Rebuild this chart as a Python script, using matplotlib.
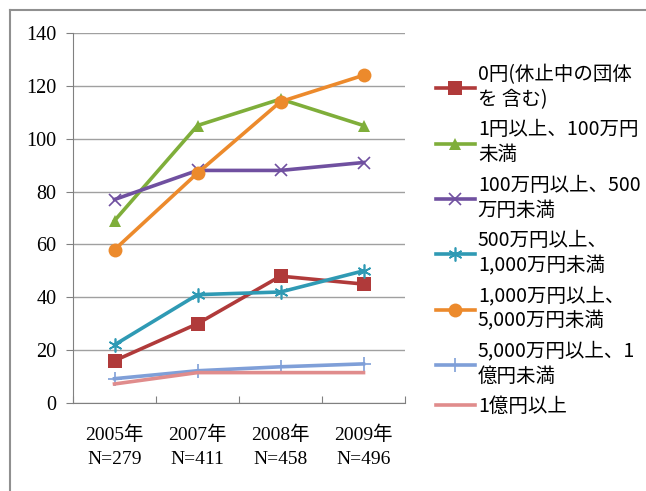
import matplotlib
matplotlib.use('Agg')
import matplotlib.pyplot as plt
from matplotlib.lines import Line2D

# categories and data
years = ['2005年\nN=279', '2007年\nN=411', '2008年\nN=458', '2009年\nN=496']
labels = ['0円(休止中の団体\nを 含む)',
          '1円以上、100万円\n未満',
          '100万円以上、500\n万円未満',
          '500万円以上、\n1,000万円未満',
          '1,000万円以上、\n5,000万円未満',
          '5,000万円以上、1\n億円未満',
          '1億円以上']
v_zero = [16, 30, 48, 45]
v_1 = [69, 105, 115, 105]
v_100 = [77, 88, 88, 91]
v_500 = [22, 41, 42, 50]
v_1000 = [58, 87, 114, 124]
v_5000 = [9.2, 12.2, 13.7, 14.8]
v_oku = [7.2, 11.5, 11.5, 11.5]

series = [v_zero, v_1, v_100, v_500, v_1000, v_5000, v_oku]
colors = ['#b03a3a', '#7fae3a', '#7050a0', '#2f9ab4', '#ec8a2c', '#7f9fd8', '#e08c8c']
markers = ['s', '^', 'x', (6, 2, 0), 'o', '+', None]
msizes = [10, 9, 9, 10, 10, 10, 0]

serif = ['Liberation Serif', 'Noto Sans CJK JP']
sans = ['Noto Sans CJK JP', 'DejaVu Sans']

fig = plt.figure(figsize=(6.46, 4.91), dpi=100)
ax = fig.add_axes([73/646, 1-403/491, (405-73)/646, (403-33)/491])

x = list(range(len(years)))
for vals, c, m, ms, lab in zip(series, colors, markers, msizes, labels):
    thin = m in ('x', '+') or isinstance(m, tuple)
    ax.plot(x, vals, color=c, lw=2.6, marker=m, ms=ms, mew=1.2 if thin else 0,
            mec=c, label=lab)

ax.set_xlim(-0.5, 3.5)
ax.set_ylim(0, 140)
ax.set_yticks(range(0, 141, 20))
ax.yaxis.grid(True, color='#a0a0a0', lw=1)
ax.set_axisbelow(True)
ax.set_xticks([-0.5, 0.5, 1.5, 2.5, 3.5], minor=False)
ax.set_xticklabels([])
ax.set_xticks(x, minor=True)
ax.set_xticklabels(years, minor=True, family=serif, fontsize=14, linespacing=1.6)
ax.tick_params(axis='x', which='major', length=5, color='#808080', direction='in')
ax.tick_params(axis='x', which='minor', length=0, pad=16)
ax.tick_params(axis='y', length=5, color='#808080', direction='out', pad=7)
for t in ax.get_yticklabels():
    t.set_family(serif)
    t.set_fontsize(14.5)
for s in ['top', 'right']:
    ax.spines[s].set_visible(False)
ax.spines['left'].set_color('#808080')
ax.spines['bottom'].set_color('#808080')

leg = fig.legend(loc='upper left', bbox_to_anchor=(436/646, 1-64/491), frameon=False,
                 prop={'family': sans, 'size': 14}, handlelength=2.0, handletextpad=0.15,
                 labelspacing=0.48, borderaxespad=0, borderpad=0)
for t in leg.get_texts():
    t.set_linespacing(1.25)

# outer border (top and left only, as in the source image)
fig.add_artist(Line2D([10/646, 1], [1-10/491, 1-10/491], color='#909090', lw=1.5))
fig.add_artist(Line2D([10/646, 10/646], [0, 1-10/491], color='#909090', lw=1.5))

fig.savefig('out.png', dpi=100)
